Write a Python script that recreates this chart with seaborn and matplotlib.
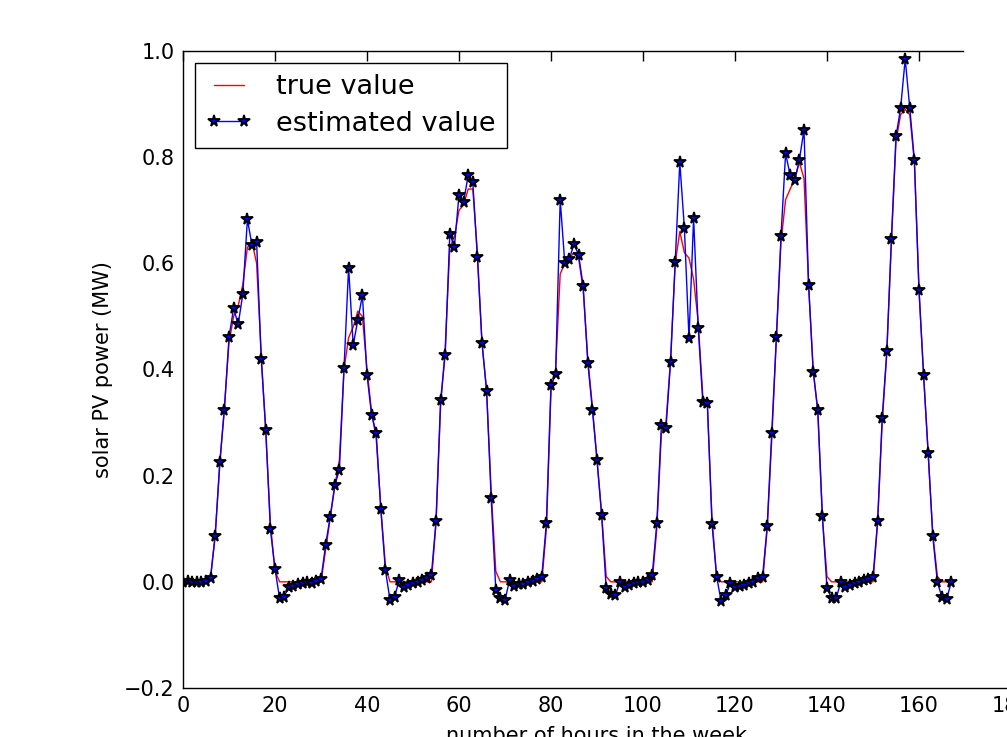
import numpy as np
import pandas as pd
import matplotlib
matplotlib.use("Agg")
import matplotlib.pyplot as plt
import seaborn as sns

# Hour index over one week
hours = list(range(168))

# Measured solar PV output (MW)
true_value = [
    0.0, 0.0, 0.0, 0.0, 0.0, 0.0,
    0.01, 0.09, 0.22, 0.33, 0.45, 0.50, 0.52, 0.56, 0.63, 0.64, 0.60, 0.43, 0.28, 0.11, 0.02, 0.0, 0.0, 0.0,
    0.0, 0.0, 0.0, 0.0, 0.0, 0.0,
    0.0, 0.06, 0.12, 0.18, 0.23, 0.40, 0.46, 0.48, 0.51, 0.50, 0.40, 0.32, 0.27, 0.14, 0.03, 0.0, 0.0, 0.0,
    0.0, 0.0, 0.0, 0.0, 0.0, 0.0,
    0.0, 0.11, 0.33, 0.44, 0.63, 0.65, 0.70, 0.71, 0.74, 0.74, 0.62, 0.45, 0.36, 0.17, 0.02, 0.0, 0.0, 0.0,
    0.0, 0.0, 0.0, 0.0, 0.0, 0.0,
    0.0, 0.10, 0.36, 0.40, 0.58, 0.60, 0.61, 0.62, 0.61, 0.55, 0.42, 0.33, 0.23, 0.13, 0.01, 0.0, 0.0, 0.0,
    0.0, 0.0, 0.0, 0.0, 0.0, 0.0,
    0.0, 0.10, 0.28, 0.30, 0.42, 0.60, 0.66, 0.62, 0.61, 0.57, 0.49, 0.35, 0.33, 0.12, 0.01, 0.0, 0.0, 0.0,
    0.0, 0.0, 0.0, 0.0, 0.0, 0.0,
    0.0, 0.10, 0.27, 0.46, 0.64, 0.72, 0.74, 0.76, 0.79, 0.76, 0.56, 0.40, 0.32, 0.12, 0.01, 0.0, 0.0, 0.0,
    0.0, 0.0, 0.0, 0.0, 0.0, 0.0,
    0.0, 0.11, 0.30, 0.43, 0.64, 0.83, 0.88, 0.89, 0.88, 0.79, 0.55, 0.39, 0.24, 0.09, 0.01, 0.0, 0.0, 0.0,
]

# Estimated solar PV output (MW)
estimated_value = [
    0.0, 0.001, 0.0, -0.001, 0.0, 0.002,
    0.008, 0.086, 0.226, 0.324, 0.461, 0.515, 0.485, 0.542, 0.683, 0.634, 0.641, 0.42, 0.286, 0.099, 0.024, -0.031, -0.028, -0.009,
    -0.007, -0.005, -0.003, 0.0, -0.002, 0.002,
    0.005, 0.069, 0.123, 0.182, 0.211, 0.403, 0.592, 0.446, 0.493, 0.54, 0.39, 0.314, 0.281, 0.137, 0.022, -0.034, -0.028, 0.003,
    -0.009, -0.006, -0.003, 0.0, 0.003, 0.007,
    0.013, 0.114, 0.342, 0.428, 0.655, 0.631, 0.729, 0.716, 0.766, 0.753, 0.611, 0.45, 0.36, 0.157, -0.015, -0.031, -0.034, 0.003,
    -0.008, -0.005, -0.004, -0.001, 0.002, 0.006,
    0.01, 0.111, 0.371, 0.391, 0.72, 0.6, 0.609, 0.636, 0.616, 0.557, 0.413, 0.324, 0.23, 0.126, -0.012, -0.023, -0.025, 0.0,
    -0.009, -0.006, -0.003, 0.0, 0.0, 0.003,
    0.012, 0.11, 0.295, 0.29, 0.415, 0.603, 0.79, 0.666, 0.459, 0.685, 0.479, 0.339, 0.336, 0.109, 0.01, -0.037, -0.025, -0.003,
    -0.01, -0.008, -0.006, -0.003, 0.0, 0.007,
    0.01, 0.105, 0.281, 0.461, 0.651, 0.807, 0.766, 0.757, 0.795, 0.852, 0.559, 0.396, 0.324, 0.124, -0.012, -0.031, -0.031, 0.0,
    -0.009, -0.006, -0.003, 0.0, 0.003, 0.005,
    0.009, 0.114, 0.309, 0.434, 0.646, 0.839, 0.892, 0.985, 0.892, 0.794, 0.55, 0.389, 0.242, 0.086, -0.001, -0.029, -0.033, -0.001,
]

x_ticks = [0, 20, 40, 60, 80, 100, 120, 140, 160, 180]
y_ticks = [-0.2, 0.0, 0.2, 0.4, 0.6, 0.8, 1.0]
y_tick_labels = ["\u22120.2", "0.0", "0.2", "0.4", "0.6", "0.8", "1.0"]

df = pd.DataFrame({"hour": hours, "true": true_value, "est": estimated_value})

sns.set_style("white")
plt.rcParams["font.family"] = ["DejaVu Sans"]
plt.rcParams["text.color"] = "black"
plt.rcParams["axes.labelcolor"] = "black"

fig = plt.figure(figsize=(10.07, 7.37), dpi=100)
ax = fig.add_axes([183 / 1007, 1 - 688 / 737, 828 / 1007, 637 / 737])

sns.lineplot(data=df, x="hour", y="true", ax=ax, color="red", linewidth=1.0,
             sort=False, estimator=None, label="true value")
sns.lineplot(data=df, x="hour", y="est", ax=ax, color="blue", linewidth=1.0,
             marker="*", markersize=8.5, markerfacecolor="blue",
             markeredgecolor="black", markeredgewidth=1.3,
             sort=False, estimator=None, label="estimated value")

ax.set_xlim(0, 180)
ax.set_ylim(-0.2, 1.0)
ax.set_xticks(x_ticks)
ax.set_yticks(y_ticks)
ax.set_xticklabels([str(t) for t in x_ticks])
ax.set_yticklabels(y_tick_labels)

ax.tick_params(direction="in", top=True, right=False, length=7, width=1,
               labelsize=15, color="black", labelcolor="black", pad=6)
for side in ["left", "bottom", "top", "right"]:
    ax.spines[side].set_color("black")
    ax.spines[side].set_linewidth(1.0)
ax.spines["top"].set_bounds(0, 169.6)

ax.set_xlabel("number of hours in the week", fontsize=15, labelpad=7)
ax.set_ylabel("solar PV power (MW)", fontsize=15, labelpad=8)

leg = ax.legend(loc="upper left", fontsize=19.5, numpoints=2, handlelength=1.7,
                fancybox=False, frameon=True, framealpha=1.0,
                borderaxespad=0.45, handletextpad=0.9, borderpad=0.4,
                labelspacing=0.4)
leg.get_frame().set_edgecolor("black")
leg.get_frame().set_linewidth(1.0)
for t in leg.get_texts():
    t.set_color("black")

fig.savefig("out.png", dpi=100, facecolor="white")
